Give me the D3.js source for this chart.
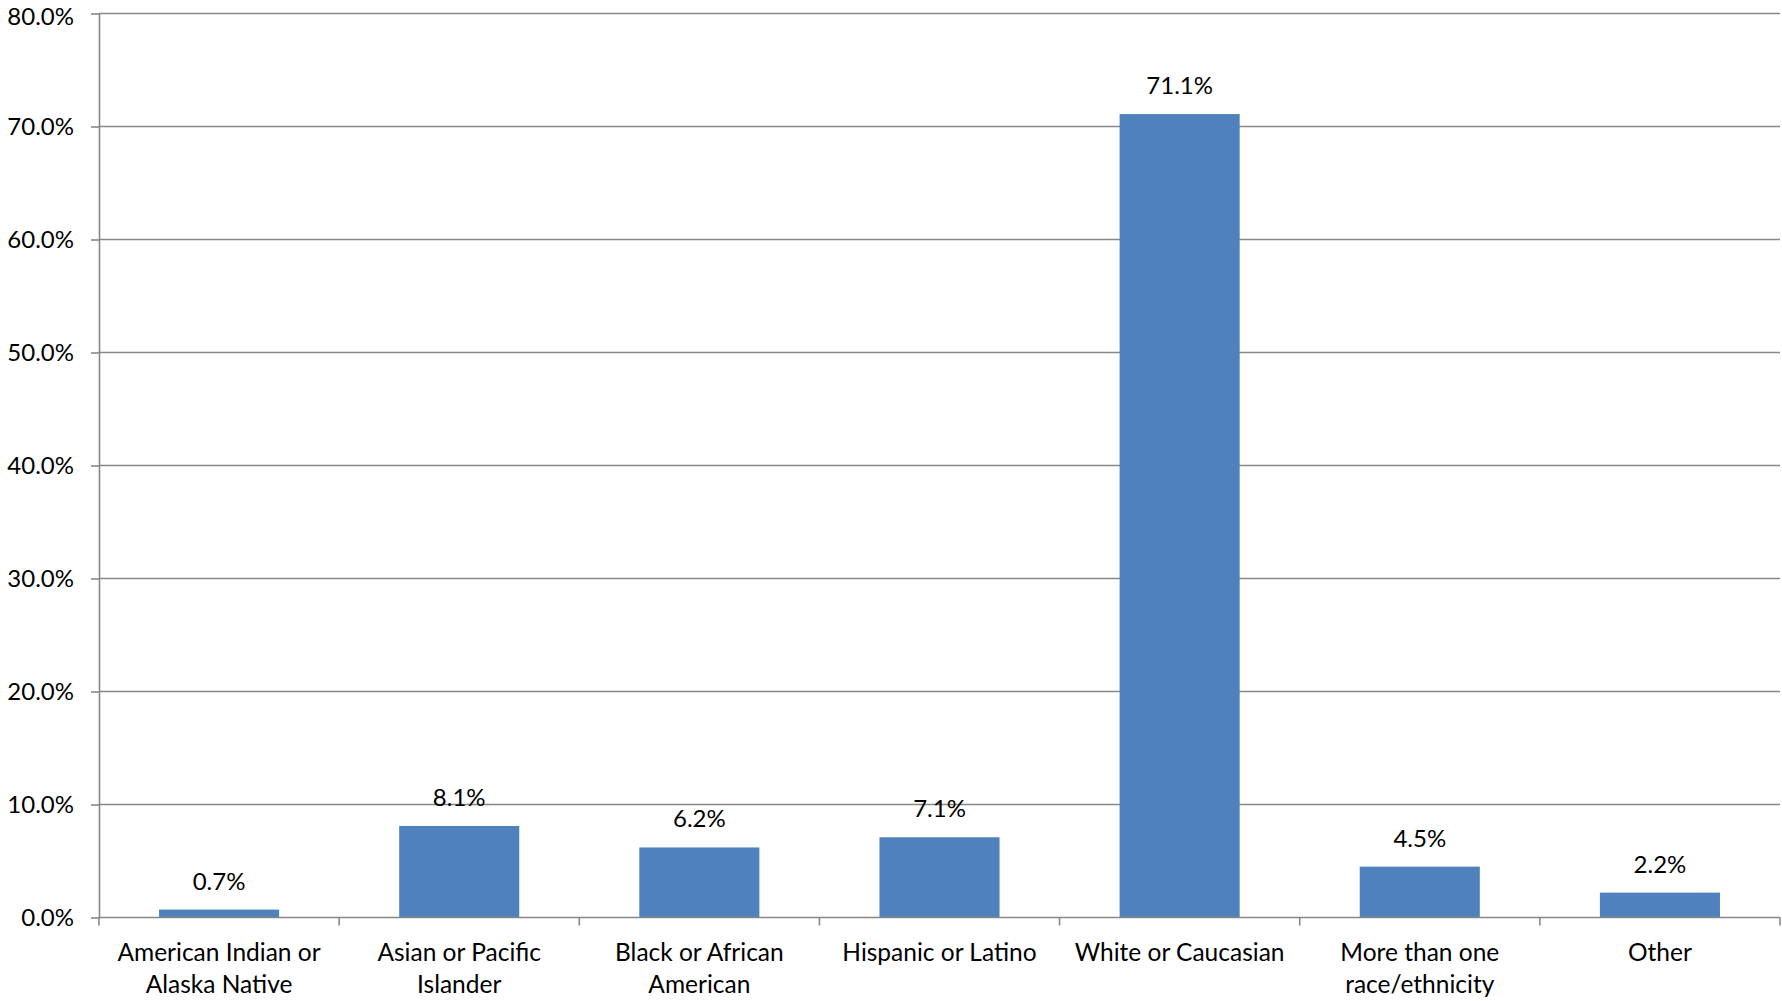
<!DOCTYPE html>
<html>
<head>
<meta charset="utf-8">
<script src="https://cdn.jsdelivr.net/npm/d3@7"></script>
<style>
  html, body { margin: 0; padding: 0; background: #fff; }
  svg { display: block; }
  text { font-family: Lato, "Open Sans", sans-serif; fill: #000; }
</style>
</head>
<body>
<svg id="chart" width="1782" height="1001"></svg>
<script>
const categories = [
  "American Indian or Alaska Native",
  "Asian or Pacific Islander",
  "Black or African American",
  "Hispanic or Latino",
  "White or Caucasian",
  "More than one race/ethnicity",
  "Other"
];
const categoryLines = [
  ["American Indian or", "Alaska Native"],
  ["Asian or Pacific", "Islander"],
  ["Black or African", "American"],
  ["Hispanic or Latino"],
  ["White or Caucasian"],
  ["More than one", "race/ethnicity"],
  ["Other"]
];
const values = [0.7, 8.1, 6.2, 7.1, 71.1, 4.5, 2.2];
const yTicks = [0, 10, 20, 30, 40, 50, 60, 70, 80];

const svg = d3.select("#chart");
const plotLeft = 99, plotRight = 1780, plotTop = 13.5, plotBottom = 917.5;
const fontSize = 24;

const x = d3.scaleBand().domain(categories).range([plotLeft, plotRight]).paddingInner(0.5).paddingOuter(0.25);
const y = d3.scaleLinear().domain([0, 80]).range([plotBottom, plotTop]);

const gridColor = "#878787";

// gridlines
svg.append("g").selectAll("line").data(yTicks.filter(d => d > 0)).join("line")
  .attr("x1", plotLeft).attr("x2", plotRight)
  .attr("y1", d => y(d)).attr("y2", d => y(d))
  .attr("stroke", gridColor).attr("stroke-width", 1.6);

// y axis
const yAxis = svg.append("g").attr("transform", `translate(${plotLeft},0)`)
  .call(d3.axisLeft(y).tickValues(yTicks).tickFormat(d => d3.format(".1f")(d) + "%").tickSize(8).tickSizeOuter(0));
yAxis.select(".domain").attr("stroke", gridColor).attr("stroke-width", 1.6);
yAxis.selectAll(".tick line").attr("stroke", gridColor).attr("stroke-width", 1.6);
yAxis.selectAll(".tick text").attr("x", -25).attr("font-size", fontSize).attr("font-family", "Lato").attr("fill", "#000")
  .attr("dy", d => d === 80 ? "0.46em" : "0.35em");

// bars
svg.append("g").selectAll("rect").data(values).join("rect")
  .attr("x", (d, i) => x(categories[i]))
  .attr("width", x.bandwidth())
  .attr("y", d => y(d))
  .attr("height", d => y(0) - y(d))
  .attr("fill", "#4F81BD");

// x axis
svg.append("line").attr("x1", plotLeft).attr("x2", plotRight).attr("y1", plotBottom).attr("y2", plotBottom)
  .attr("stroke", gridColor).attr("stroke-width", 1.6);
const boundaries = d3.range(categories.length + 1).map(i => plotLeft + i * x.step());
svg.append("g").selectAll("line").data(boundaries).join("line")
  .attr("x1", d => d).attr("x2", d => d).attr("y1", plotBottom).attr("y2", plotBottom + 8)
  .attr("stroke", gridColor).attr("stroke-width", 1.6);

// category labels
const lab = svg.append("g").selectAll("text").data(categoryLines).join("text")
  .attr("text-anchor", "middle").attr("font-size", 24.5)
  .attr("x", (d, i) => x(categories[i]) + x.bandwidth() / 2)
  .attr("y", 961);
lab.selectAll("tspan").data(d => d).join("tspan")
  .attr("x", function () { return this.parentNode.getAttribute("x"); })
  .attr("dy", (d, j) => j === 0 ? 0 : 32)
  .text(d => d);

// value labels
svg.append("g").selectAll("text").data(values).join("text")
  .attr("text-anchor", "middle").attr("font-size", fontSize)
  .attr("x", (d, i) => x(categories[i]) + x.bandwidth() / 2)
  .attr("y", d => y(d) - 20)
  .text(d => d3.format(".1f")(d) + "%");
</script>
</body>
</html>
